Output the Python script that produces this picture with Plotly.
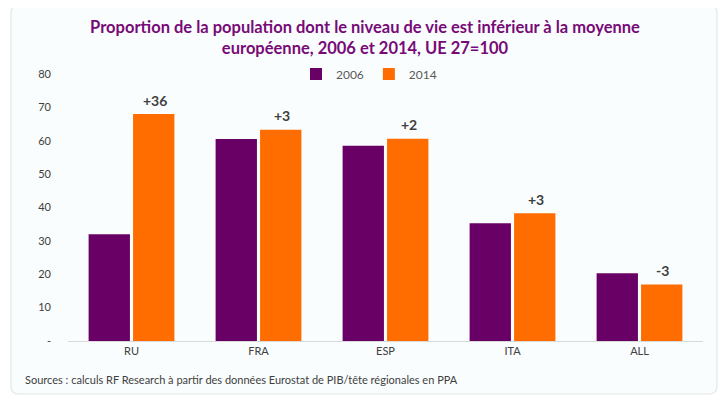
import plotly.graph_objects as go

categories = ["RU", "FRA", "ESP", "ITA", "ALL"]
values_2006 = [32.0, 60.5, 58.5, 35.3, 20.3]
values_2014 = [68.0, 63.3, 60.6, 38.3, 16.9]
change_labels = ["+36", "+3", "+2", "+3", "-3"]
y_ticks = [0, 10, 20, 30, 40, 50, 60, 70, 80]
y_tick_labels = ["-", "10", "20", "30", "40", "50", "60", "70", "80"]

PURPLE = "#680066"
ORANGE = "#FF6D00"
TXT = "#404040"
CARD = "#F9FDFD"
FONT = "Lato, 'Open Sans', sans-serif"

fig = go.Figure()
fig.add_trace(go.Bar(name="2006", x=categories, y=values_2006, marker_color=PURPLE,
                     marker_line_width=0))
fig.add_trace(go.Bar(name="2014", x=categories, y=values_2014, marker_color=ORANGE,
                     marker_line_width=0))

for c, v, t in zip(categories, values_2014, change_labels):
    fig.add_annotation(x=c, y=v, text="<b>%s</b>" % t, showarrow=False,
                       xshift=23, yshift=14, font=dict(size=14, color=TXT, family=FONT))

fig.add_annotation(xref="paper", yref="paper", x=-0.0709, y=-0.146, xanchor="left",
                   yanchor="middle", showarrow=False,
                   text="Sources : calculs RF Research à partir des données Eurostat de PIB/tête régionales en PPA",
                   font=dict(size=11, color=TXT, family=FONT))

# rounded card outline (paper coords)
x0, x1, y0, y1 = -0.0898, 1.022, -0.1985, 1.258
rx, ry = 0.0126, 0.03
card_path = (f"M {x0+rx},{y1} L {x1-rx},{y1} Q {x1},{y1} {x1},{y1-ry} "
             f"L {x1},{y0+ry} Q {x1},{y0} {x1-rx},{y0} L {x0+rx},{y0} "
             f"Q {x0},{y0} {x0},{y0+ry} L {x0},{y1-ry} Q {x0},{y1} {x0+rx},{y1} Z")

fig.update_layout(
    width=727, height=398,
    margin=dict(l=60, r=32, t=66, b=65, autoexpand=False),
    paper_bgcolor="white", plot_bgcolor="rgba(0,0,0,0)",
    barmode="group", bargap=0.3, bargroupgap=0.07,
    title=dict(text="<b>Proportion de la population dont le niveau de vie est inférieur à la moyenne<br>européenne, 2006 et 2014, UE 27=100</b>",
               x=357 / 727, xanchor="center", xref="container", yref="container",
               y=1 - 25 / 398, yanchor="middle",
               font=dict(size=16.5, color="#780A78", family=FONT)),
    legend=dict(orientation="h", x=0.474, xanchor="center", y=1.0, yanchor="middle",
                font=dict(size=12, color="#595959", family=FONT), itemwidth=30,
                bgcolor="rgba(0,0,0,0)"),
    font=dict(family=FONT, color=TXT),
    xaxis=dict(showgrid=False, showline=True, linecolor="#D9D9D9", linewidth=1,
               ticks="", tickfont=dict(size=11, color=TXT)),
    yaxis=dict(range=[0, 80], tickvals=y_ticks, ticktext=y_tick_labels, showgrid=False,
               showline=False, zeroline=False, ticks="", ticklabelstandoff=16,
               tickfont=dict(size=11, color=TXT)),
    shapes=[dict(type="path", xref="paper", yref="paper", path=card_path,
                 fillcolor=CARD, line=dict(color="#E3E6E8", width=1.2), layer="below")],
)

fig.write_html("out.html")
